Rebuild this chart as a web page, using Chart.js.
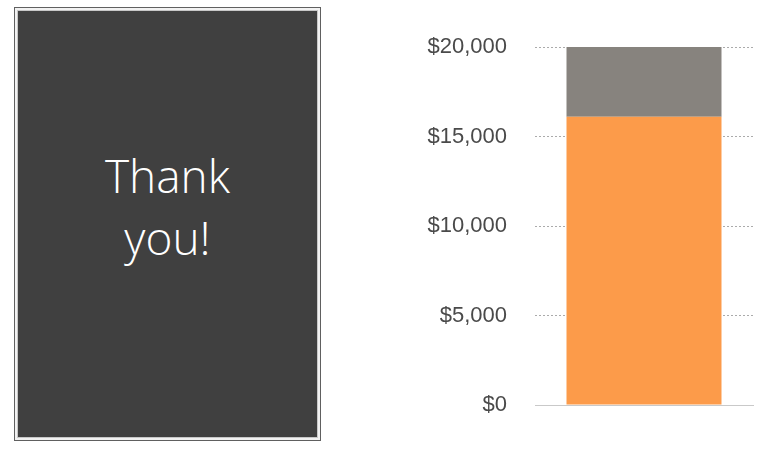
<!DOCTYPE html>
<html>
<head>
<meta charset="utf-8">
<script src="https://cdn.jsdelivr.net/npm/chart.js@4.4.0/dist/chart.umd.min.js"></script>
<style>
  html, body { margin: 0; padding: 0; background: #fff; }
  #wrap { position: relative; width: 768px; height: 455px; overflow: hidden; }
  #panel {
    position: absolute; left: 17px; top: 10px; width: 299px; height: 426px;
    background: #404040; border: 1px solid #c8c8c8;
    box-shadow: 0 0 0 2px #f2f2f2, 0 0 0 3px #606060;
  }
  #thanks {
    position: absolute; left: 14px; width: 307px; top: 144px;
    text-align: center; color: #fff;
    font-family: "Open Sans", sans-serif; font-weight: 300;
    font-size: 46px; line-height: 62px;
  }
  #chart-box { position: absolute; left: 0; top: 0; width: 768px; height: 455px; }
</style>
</head>
<body>
<div id="wrap">
  <div id="panel"></div>
  <div id="thanks">Thank<br>you!</div>
  <div id="chart-box"><canvas id="chart"></canvas></div>
</div>
<script>
// 값은 그림에서 읽어 온 추정치
const CATEGORIES = [""];
const RAISED = [16100];
const REMAINING = [3900];
const Y_TICKS = [0, 5000, 10000, 15000, 20000];

const C = {
  orange: "#fc9b4a",
  gray: "#87837e",
  grid: "#ababab",
  base: "#c9c9c9",
  label: "#4a4a4a",
};

const fmtUsd = (v) => "$" + Number(v).toLocaleString("en-US");

new Chart(document.getElementById("chart").getContext("2d"), {
  type: "bar",
  data: {
    labels: CATEGORIES,
    datasets: [
      { label: "Raised", data: RAISED, backgroundColor: C.orange },
      { label: "Remaining", data: REMAINING, backgroundColor: C.gray },
    ],
  },
  options: {
    responsive: true,
    maintainAspectRatio: false,
    animation: false,
    layout: { padding: { left: 0, right: 15, top: 47, bottom: 50 } },
    plugins: { legend: { display: false }, tooltip: { enabled: false } },
    datasets: { bar: { barPercentage: 0.711, categoryPercentage: 1 } },
    scales: {
      x: {
        stacked: true,
        ticks: { display: false },
        grid: { display: false, drawTicks: false },
        border: { display: true, color: C.base, width: 1 },
        afterFit: (s) => { s.height = 0; },
      },
      y: {
        stacked: true,
        min: 0,
        max: 20000,
        afterBuildTicks: (s) => { s.ticks = Y_TICKS.map((v) => ({ value: v })); },
        afterFit: (s) => { s.width = 535; },
        ticks: {
          padding: 28,
          color: C.label,
          font: { family: '"Liberation Sans", Arial, sans-serif', size: 22 },
          callback: (v) => fmtUsd(v),
        },
        grid: {
          drawTicks: false,
          lineWidth: 1,
          color: (ctx) => (ctx.tick && ctx.tick.value === 0 ? "transparent" : C.grid),
        },
        border: { display: false, dash: [2, 2] },
      },
    },
  },
});
</script>
</body>
</html>
